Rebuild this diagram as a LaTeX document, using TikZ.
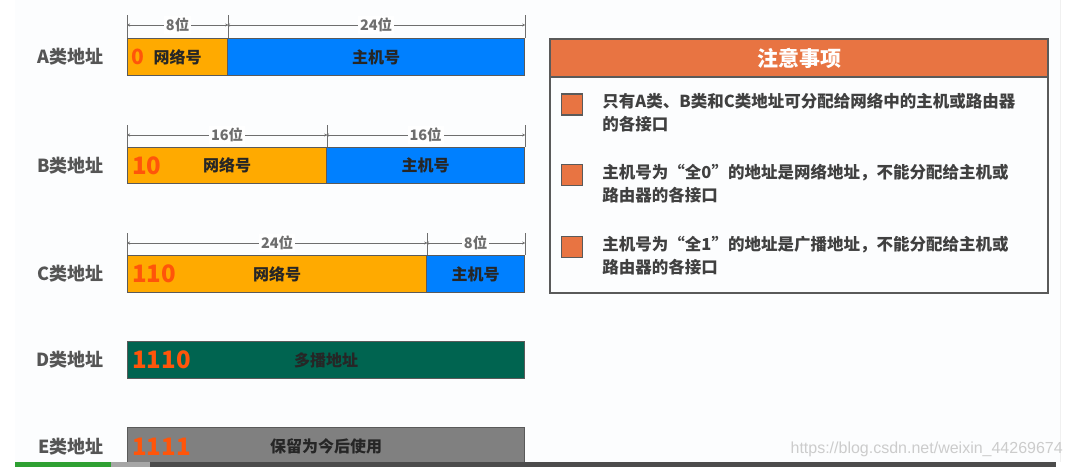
\documentclass[tikz,border=0pt]{standalone}
\usepackage{fontspec}
\usepackage{tikz}
\usetikzlibrary{arrows.meta,positioning}
\newfontfamily\cjk{Noto Sans CJK SC}
\newfontfamily\wmfont{Liberation Sans}
\definecolor{netorange}{RGB}{255,170,0}
\definecolor{hostblue}{RGB}{0,128,255}
\definecolor{mcgreen}{RGB}{0,100,80}
\definecolor{resgray}{RGB}{128,128,128}
\definecolor{boxline}{RGB}{90,90,90}
\definecolor{prefixred}{RGB}{255,85,10}
\definecolor{noteorange}{RGB}{232,116,66}
\definecolor{labelgray}{RGB}{85,85,85}
\definecolor{dimgray}{RGB}{110,110,110}
\definecolor{pagetint}{RGB}{252,253,254}
\definecolor{barGreen}{RGB}{46,160,50}

\begin{document}
\begin{tikzpicture}[x=1pt, y=-1pt,
  field/.style={draw=boxline, line width=1.2pt, minimum height=37pt, inner sep=0pt, anchor=north west,
                text=black!85, font=\cjk\bfseries\fontsize{16}{16}\selectfont},
  bitprefix/.style={anchor=west, text=prefixred, inner sep=0pt, font=\cjk\bfseries\fontsize{24}{24}\selectfont},
  rowlabel/.style={anchor=east, text=labelgray, inner sep=0pt, font=\cjk\bfseries\fontsize{18}{18}\selectfont},
  dimtick/.style={dimgray, line width=0.6pt},
  dimline/.style={dimgray, line width=0.6pt, {Stealth[length=3pt,width=3pt]}-{Stealth[length=3pt,width=3pt]}},
  dimlabel/.style={fill=white, inner sep=2pt, text=dimgray, font=\cjk\bfseries\fontsize{14.5}{14.5}\selectfont},
  bulletbox/.style={draw=boxline, line width=1.5pt, fill=noteorange, minimum size=21pt, inner sep=0pt},
  notetext/.style={anchor=north west, align=left, inner sep=0pt, text=black!75,
               font=\cjk\bfseries\fontsize{16.5}{23}\selectfont}]
  \useasboundingbox (0,0) rectangle (1066,467);
  \fill[pagetint] (15,0) rectangle (1060,462);
  \draw[gray!12] (1060,0) -- (1060,462);

  % A
  \node[field, fill=netorange, minimum width=100pt] (anet) at (127,38) {网络号};
  \node[field, fill=hostblue, minimum width=297pt] (ahost) at (227,38) {主机号};
  \node[bitprefix, font=\cjk\bfseries\fontsize{21}{21}\selectfont, right=4pt of anet.west] (apre) {0};
  \node[rowlabel, left=23pt of anet.west] (alab) {A类地址};
  \draw[dimtick] (anet.north west) -- ++(0,-23);
  \draw[dimtick] (anet.north east) -- ++(0,-23);
  \draw[dimtick] (ahost.north east) -- ++(0,-23);
  \draw[dimline] ([yshift=13pt]anet.north west) -- node[dimlabel] (adim1) {8位} ([yshift=13pt]anet.north east);
  \draw[dimline] ([yshift=13pt]ahost.north west) -- node[dimlabel] (adim2) {24位} ([yshift=13pt]ahost.north east);

  % B
  \node[field, fill=netorange, minimum width=199pt, minimum height=36pt] (bnet) at (127,147) {网络号};
  \node[field, fill=hostblue, minimum width=198pt, minimum height=36pt] (bhost) at (326,147) {主机号};
  \node[bitprefix, right=5pt of bnet.west] (bpre) {10};
  \node[rowlabel, left=23pt of bnet.west] (blab) {B类地址};
  \draw[dimtick] (bnet.north west) -- ++(0,-22);
  \draw[dimtick] (bnet.north east) -- ++(0,-22);
  \draw[dimtick] (bhost.north east) -- ++(0,-22);
  \draw[dimline] ([yshift=12pt]bnet.north west) -- node[dimlabel] (bdim1) {16位} ([yshift=12pt]bnet.north east);
  \draw[dimline] ([yshift=12pt]bhost.north west) -- node[dimlabel] (bdim2) {16位} ([yshift=12pt]bhost.north east);

  % C
  \node[field, fill=netorange, minimum width=299pt] (cnet) at (127,255) {网络号};
  \node[field, fill=hostblue, minimum width=98pt] (chost) at (426,255) {主机号};
  \node[bitprefix, right=5pt of cnet.west] (cpre) {110};
  \node[rowlabel, left=23pt of cnet.west] (clab) {C类地址};
  \draw[dimtick] (cnet.north west) -- ++(0,-22);
  \draw[dimtick] (cnet.north east) -- ++(0,-22);
  \draw[dimtick] (chost.north east) -- ++(0,-22);
  \draw[dimline] ([yshift=12pt]cnet.north west) -- node[dimlabel] (cdim1) {24位} ([yshift=12pt]cnet.north east);
  \draw[dimline] ([yshift=12pt]chost.north west) -- node[dimlabel] (cdim2) {8位} ([yshift=12pt]chost.north east);

  % D, E
  \node[field, fill=mcgreen, minimum width=397pt] (dmc) at (127,341) {多播地址};
  \node[bitprefix, right=5pt of dmc.west] (dpre) {1110};
  \node[rowlabel, left=23pt of dmc.west] (dlab) {D类地址};
  \node[field, fill=resgray, minimum width=397pt, minimum height=38pt] (eres) at (127,427) {保留为今后使用};
  \node[bitprefix, right=5pt of eres.west] (epre) {1111};
  \node[rowlabel, left=23pt of eres.west] (elab) {E类地址};

  % notes
  \node[draw=boxline, line width=2pt, minimum width=498pt, minimum height=254pt, anchor=north west] (notes) at (549,38) {};
  \node[draw=boxline, line width=2pt, fill=noteorange, minimum width=498pt, minimum height=38pt, anchor=north west,
        text=white, font=\cjk\bfseries\fontsize{21}{21}\selectfont] (notehead) at (549,38) {注意事项};
  \node[bulletbox] (b1) at (572,104.5) {};
  \node[bulletbox] (b2) at (572,175) {};
  \node[bulletbox] (b3) at (572,247) {};
  \node[notetext, right=19pt of b1.north east, anchor=north west] (n1) {只有A类、B类和C类地址可分配给网络中的主机或路由器\\的各接口};
  \node[notetext, right=19pt of b2.north east, anchor=north west] (n2) {主机号为“全0”的地址是网络地址，不能分配给主机或\\路由器的各接口};
  \node[notetext, right=19pt of b3.north east, anchor=north west] (n3) {主机号为“全1”的地址是广播地址，不能分配给主机或\\路由器的各接口};

  \node[anchor=east, inner sep=0pt, text=gray!40, font=\wmfont\fontsize{16}{16}\selectfont] (wm) at (1063,449)
       {https://blog.csdn.net/weixin\_44269674};
  \fill[barGreen] (15,462) rectangle (111,467);
  \fill[gray!70] (111,462) rectangle (150,467);
  \fill[black!70] (150,462) rectangle (1056,467);
\end{tikzpicture}
\end{document}
